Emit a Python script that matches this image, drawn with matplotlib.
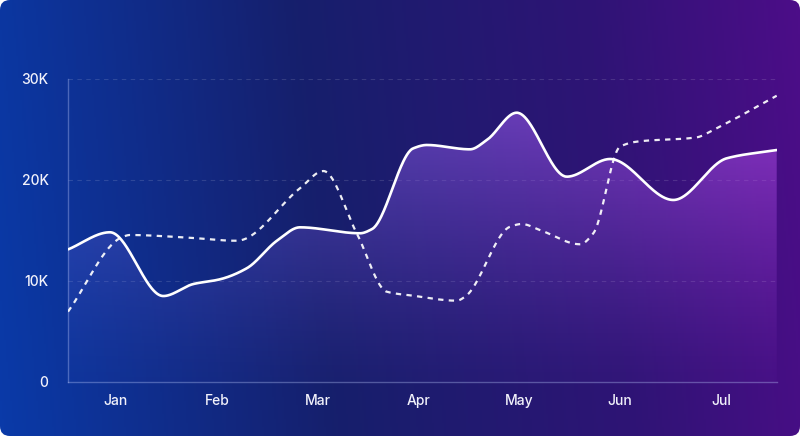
import numpy as np
import matplotlib
matplotlib.use('Agg')
import matplotlib.pyplot as plt
from matplotlib.colors import LinearSegmentedColormap, to_rgb
from matplotlib.patches import FancyBboxPatch

plt.rcParams['font.family'] = ['Inter', 'DejaVu Sans']

# data (x in months, Jan = 0; values in thousands)
months = ['Jan', 'Feb', 'Mar', 'Apr', 'May', 'Jun', 'Jul']
solid_x = [-0.473, -0.060, 0.469, 0.767, 1.032, 1.297, 1.600, 1.825, 2.421, 2.540,
           2.949, 3.082, 3.512, 3.678, 3.975, 4.472, 4.901, 5.529, 6.058, 6.554]
solid_y = [13.12, 14.81, 8.49, 9.68, 10.15, 11.24, 14.0, 15.30, 14.71, 15.13,
           23.13, 23.46, 23.03, 23.95, 26.66, 20.32, 22.07, 18.01, 22.14, 22.96]
dash_x = [-0.476, 0.057, 0.139, 0.668, 1.197, 1.825, 2.057, 2.388, 2.686, 2.950,
          3.380, 3.462, 3.909, 4.025, 4.206, 4.603, 4.735, 5.000, 5.166, 5.761, 5.925, 6.554]
dash_y = [6.94, 14.31, 14.54, 14.31, 13.97, 19.17, 20.88, 14.71, 8.92, 8.52,
          8.03, 8.42, 15.36, 15.63, 15.03, 13.62, 14.71, 23.29, 23.79, 24.22, 24.95, 28.34]
yticks = [0, 10, 20, 30]
ylabels = ['0', '10K', '20K', '30K']


def smooth(x, y, n=800):
    # monotone cubic (Fritsch-Carlson)
    x = np.asarray(x, float)
    y = np.asarray(y, float)
    h = np.diff(x)
    d = np.diff(y) / h
    m = np.zeros_like(y)
    m[0], m[-1] = d[0], d[-1]
    for k in range(1, len(x) - 1):
        if d[k - 1] * d[k] > 0:
            w1 = 2 * h[k] + h[k - 1]
            w2 = h[k] + 2 * h[k - 1]
            m[k] = (w1 + w2) / (w1 / d[k - 1] + w2 / d[k])
    xs = np.linspace(x[0], x[-1], n)
    i = np.clip(np.searchsorted(x, xs) - 1, 0, len(x) - 2)
    t = (xs - x[i]) / h[i]
    h00 = 2 * t**3 - 3 * t**2 + 1
    h10 = t**3 - 2 * t**2 + t
    h01 = -2 * t**3 + 3 * t**2
    h11 = t**3 - t**2
    ys = h00 * y[i] + h10 * h[i] * m[i] + h01 * y[i + 1] + h11 * h[i] * m[i + 1]
    return xs, ys


fig = plt.figure(figsize=(8, 4.36), dpi=100, facecolor='white')

# background card with rounded corners
bg = fig.add_axes([0, 0, 1, 1])
bg.set_xlim(0, 800)
bg.set_ylim(0, 436)
bg.axis('off')
bgcmap = LinearSegmentedColormap.from_list('bg', [(0, '#0a3aa8'), (0.4, '#161f6c'),
                                                   (0.75, '#2e1475'), (1, '#4c0d88')])
gx = np.linspace(0, 1, 400)
gy = np.linspace(0, 1, 100)
G = gx[None, :] * 0.95 + 0.05 * gy[:, None]
im = bg.imshow(bgcmap(G), extent=(0, 800, 0, 436), aspect='auto', origin='lower', zorder=0)
card = FancyBboxPatch((0, 0), 800, 436, boxstyle='round,pad=0,rounding_size=10',
                      transform=bg.transData, facecolor='none', edgecolor='none')
bg.add_patch(card)
im.set_clip_path(card)

ax = fig.add_axes([68 / 800, (436 - 381.7) / 436, (777 - 68) / 800, (381.7 - 79) / 436])
ax.set_facecolor('none')

sx, sy = smooth(solid_x, solid_y)
dx, dy = smooth(dash_x, dash_y)

# gradient fill under solid line
c0 = np.array(to_rgb('#5860d4'))
c1 = np.array(to_rgb('#b04ce8'))
fx = np.linspace(0, 1, 300)
fy = np.linspace(0, 1, 200)
rgba = np.zeros((200, 300, 4))
rgba[..., :3] = c0[None, None, :] * (1 - fx[None, :, None]) + c1[None, None, :] * fx[None, :, None]
rgba[..., 3] = (0.04 + 0.58 * fy[:, None] ** 1.3) * np.ones((1, 300))
fill = ax.fill_between(sx, 0, sy, facecolor='none', edgecolor='none')
gim = ax.imshow(rgba, extent=(sx[0], sx[-1], 0, max(solid_y)), aspect='auto',
                origin='lower', zorder=1)
gim.set_clip_path(fill.get_paths()[0], ax.transData)
ax.set_xlim(-0.476, 6.557)
ax.set_ylim(0, 30)

ax.plot(sx, sy, color='white', lw=1.9, zorder=3, solid_capstyle='round')
ax.plot(dx, dy, color='white', lw=1.6, alpha=0.92, dashes=(2.4, 2.4), zorder=3)

for v in yticks[1:]:
    ax.axhline(v, color='white', alpha=0.13, lw=0.8, dashes=(4, 4), zorder=0.5)

for s in ['top', 'right']:
    ax.spines[s].set_visible(False)
for s in ['left', 'bottom']:
    ax.spines[s].set_color((0.75, 0.8, 1, 0.35))
    ax.spines[s].set_linewidth(1)

ax.set_xticks(range(len(months)))
ax.set_xticklabels(months)
ax.set_yticks(yticks)
ax.set_yticklabels(ylabels)
ax.tick_params(axis='both', length=0, colors='#f2f2fb', labelsize=10)
ax.tick_params(axis='y', pad=14)
ax.tick_params(axis='x', pad=9)
for lab in ax.get_xticklabels() + ax.get_yticklabels():
    lab.set_fontweight('medium')

fig.savefig('out.png', dpi=100, facecolor='white')
